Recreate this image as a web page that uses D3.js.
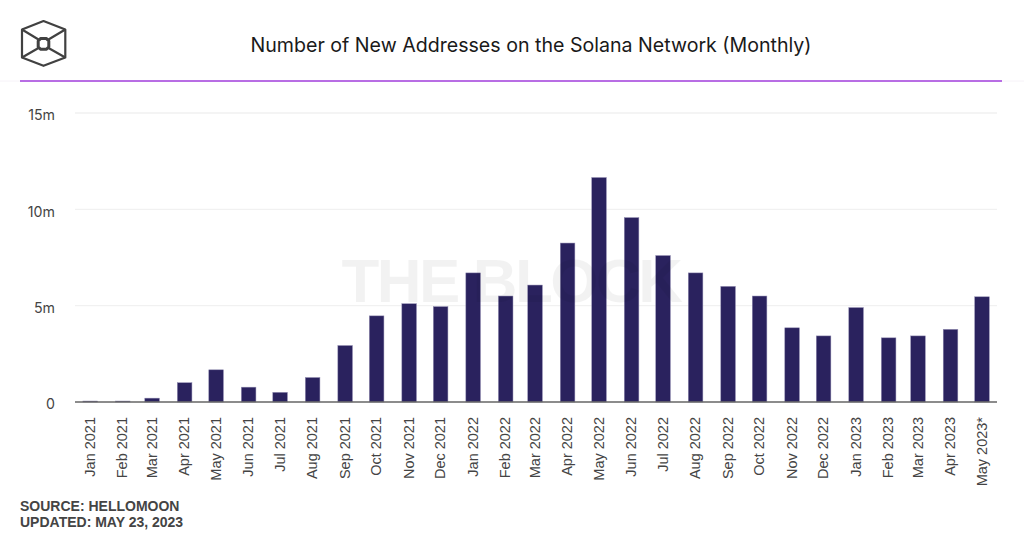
<!DOCTYPE html>
<html><head><meta charset="utf-8">
<script src="https://cdn.jsdelivr.net/npm/d3@7"></script>
<style>html,body{margin:0;padding:0;background:#fff}svg{display:block}</style></head>
<body><svg id="c" width="1024" height="537"></svg>
<script>
const categories=["Jan 2021","Feb 2021","Mar 2021","Apr 2021","May 2021","Jun 2021","Jul 2021","Aug 2021","Sep 2021","Oct 2021","Nov 2021","Dec 2021","Jan 2022","Feb 2022","Mar 2022","Apr 2022","May 2022","Jun 2022","Jul 2022","Aug 2022","Sep 2022","Oct 2022","Nov 2022","Dec 2022","Jan 2023","Feb 2023","Mar 2023","Apr 2023","May 2023*"];
const newAddresses=[0.05,0.05,0.2,1.0,1.67,0.77,0.5,1.27,2.93,4.47,5.1,4.95,6.7,5.5,6.07,8.25,11.65,9.57,7.6,6.7,6.0,5.5,3.85,3.43,4.9,3.33,3.43,3.77,5.46];
const yTicks=[0,5,10,15];
const titleText="Number of New Addresses on the Solana Network (Monthly)";
const sourceLines=["SOURCE: HELLOMOON","UPDATED: MAY 23, 2023"];
const watermark="THE BLOCK";

const parseMonth=d3.utcParse("%b %Y");
const dates=categories.map(c=>parseMonth(c.replace("*","")));
const svg=d3.select("#c");
const x=d3.scaleUtc().domain([dates[0],dates[dates.length-1]]).range([90.2,982]);
const y=d3.scaleLinear().domain([0,15]).range([402,113]);
const barWidth=14.6;

// header
svg.append("line").attr("x1",0).attr("x2",1024).attr("y1",81).attr("y2",81).attr("stroke","#f6f2f8");
svg.append("line").attr("x1",20).attr("x2",1002).attr("y1",81).attr("y2",81).attr("stroke","#a23fdc").attr("stroke-width",1.6);
svg.append("text").attr("x",531).attr("y",52).attr("text-anchor","middle").attr("font-family","Inter").attr("font-size",19.6).attr("fill","#1a1a1a").text(titleText);

// logo
const logo=svg.append("g").attr("fill","none").attr("stroke","#414141").attr("stroke-width",2.2).attr("stroke-linejoin","round");
logo.append("path").attr("d","M43.5 21L65.3 29.5V57.5L43.5 65.8L22 57.5V29.5Z");
logo.append("path").attr("stroke-width",3).attr("d","M40.5 38.6H46.5L48.8 41V47L46.5 49.2H40.5L38.2 47V41Z");
logo.append("path").attr("d","M22 29.5L38.5 39.5M65.3 29.5L48.5 39.5M22 57.5L38.5 48M65.3 57.5L48.5 48");

// grid
svg.append("g").selectAll("line").data(yTicks.filter(d=>d>0)).join("line")
 .attr("x1",75).attr("x2",997).attr("y1",d=>y(d)).attr("y2",d=>y(d)).attr("stroke","#f1f1f1").attr("stroke-width",1.3);

// y labels
const yAxis=d3.axisLeft(y).tickValues(yTicks).tickSize(0).tickPadding(0).tickFormat(d=>d===0?"0":d+"m");
const gy=svg.append("g").attr("transform","translate(55,2.4)").call(yAxis);
gy.select(".domain").remove();
gy.selectAll("text").attr("font-family","Inter").attr("font-size",14.2).attr("fill","#444");

// bars
svg.append("g").selectAll("rect").data(newAddresses).join("rect")
 .attr("x",(d,i)=>x(dates[i])-barWidth/2).attr("width",barWidth)
 .attr("y",d=>y(d)).attr("height",d=>y(0)-y(d))
 .attr("fill","#2a225e").attr("stroke","#8f8ab0").attr("stroke-width",0.5);

// watermark over the bars
svg.append("text").attr("x",511).attr("y",302).attr("text-anchor","middle").attr("font-family","Liberation Sans").attr("font-weight","bold").attr("font-size",62).attr("letter-spacing",-2.5).attr("fill","#000").attr("fill-opacity",0.05).text(watermark);

// baseline & x labels
svg.append("line").attr("x1",75).attr("x2",997).attr("y1",y(0)).attr("y2",y(0)).attr("stroke","#666").attr("stroke-width",1.6);
const xAxis=d3.axisBottom(x).tickValues(dates).tickSize(0).tickPadding(0).tickFormat((d,i)=>categories[i]);
const gx=svg.append("g").attr("transform","translate(0,402)").call(xAxis);
gx.select(".domain").remove();
gx.selectAll("text").attr("font-family","Liberation Sans").attr("font-size",14.5).attr("fill","#444")
 .attr("text-anchor","end").attr("dy",null).attr("y",0).attr("x",0)
 .attr("transform","translate(4,15) rotate(-90)");

// footer
svg.append("g").selectAll("text").data(sourceLines).join("text")
 .attr("x",20).attr("y",(d,i)=>511+i*16).attr("font-family","Liberation Sans").attr("font-weight","bold").attr("font-size",14).attr("fill","#444").text(d=>d);
</script></body></html>
